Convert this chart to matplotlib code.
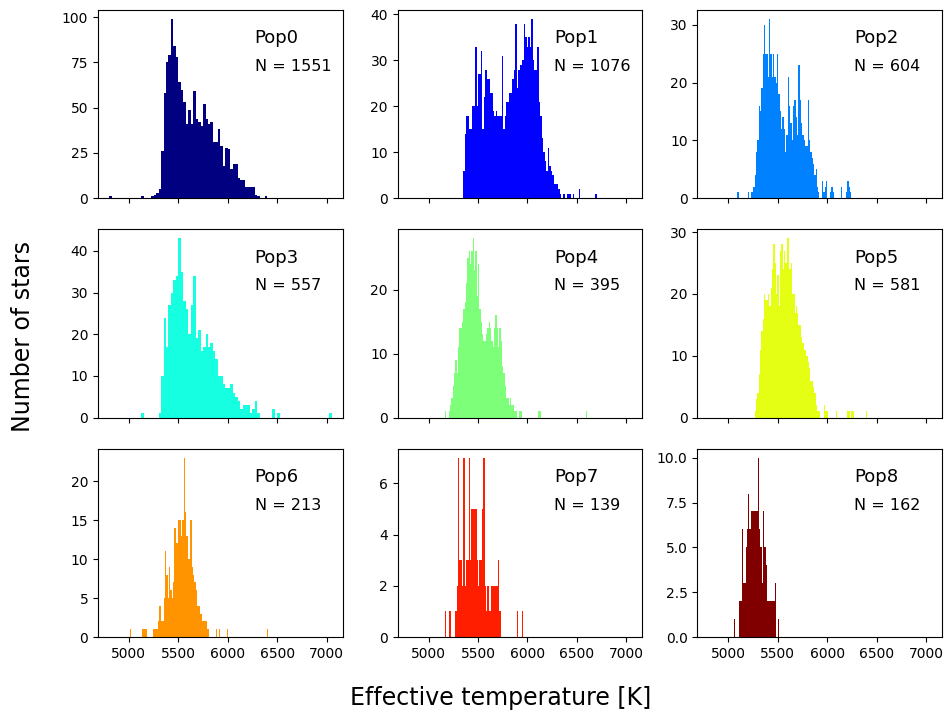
import numpy as np
import matplotlib
matplotlib.use('Agg')
import matplotlib.pyplot as plt
from matplotlib.ticker import MultipleLocator

# star counts per temperature bin
names = ['Pop0', 'Pop1', 'Pop2', 'Pop3', 'Pop4', 'Pop5', 'Pop6', 'Pop7', 'Pop8']
n_stars = [1551, 1076, 604, 557, 395, 581, 213, 139, 162]

# first bin edge [K] and bin width [K] of each population
bin_start = [4800, 5350, 5092, 5125, 5162, 5268, 5010, 5162, 5061]
bin_width = [25, 15, 13.4, 25, 13.5, 13.4, 13.6, 13.5, 10.1]

pop0 = [1, 0, 0, 0, 0, 0, 0, 0, 0, 0, 0, 0, 0, 1, 0, 0, 0, 1, 2, 3,
        5, 26, 58, 75, 79, 99, 84, 78, 64, 60, 53, 41, 49, 41, 59, 44, 42, 40, 52, 44,
        41, 42, 31, 31, 38, 29, 18, 28, 27, 16, 19, 19, 11, 10, 10, 6, 6, 6, 6, 2,
        1, 0, 0, 1]
pop1 = [6, 14, 18, 18, 15, 15, 20, 20, 33, 20, 27, 27, 32, 15, 22, 28, 26, 26, 23, 23,
        19, 18, 19, 18, 18, 18, 31, 15, 18, 21, 21, 23, 23, 26, 28, 38, 24, 28, 29, 29,
        30, 38, 35, 33, 35, 33, 39, 30, 28, 28, 33, 21, 18, 13, 10, 8, 6, 11, 7, 6,
        5, 3, 3, 3, 2, 1, 0, 1, 1, 0, 1, 1, 1, 0, 1, 0, 0, 0, 2,
        0, 0, 0, 0, 0, 0, 0, 0, 0, 0, 1]
pop2 = [1, 0, 0, 0, 0, 0, 0, 0, 1, 0, 1, 1, 2, 4, 8, 10, 16, 15, 19, 25,
        30, 25, 25, 21, 31, 25, 21, 25, 21, 20, 25, 18, 15, 12, 14, 12, 8, 11, 21, 16,
        13, 10, 16, 17, 14, 11, 23, 17, 13, 11, 10, 9, 9, 17, 10, 8, 7, 6, 4, 5,
        2, 1, 0, 0, 3, 1, 2, 3, 0, 0, 1, 2, 1, 0, 0, 0, 0, 0, 2, 0, 0, 0, 1, 3, 2, 1]
pop3 = [1, 0, 0, 0, 0, 0, 0, 1, 10, 24, 17, 27, 30, 33, 34, 43, 35, 28, 26, 20,
        27, 34, 19, 21, 16, 17, 20, 17, 18, 16, 14, 10, 10, 8, 7, 7, 8, 6, 5, 4,
        2, 3, 3, 3, 1, 2, 4, 1, 0, 0, 0, 0, 0, 2, 0, 1,
        0, 0, 0, 0, 0, 0, 0, 0, 0, 0, 0, 0, 0, 0, 0, 0, 0, 0, 0, 0, 1]
pop4 = [1, 0, 0, 1, 2, 3, 5, 7, 9, 7, 11, 14, 14, 15, 17, 18, 21, 25, 26, 24,
        26, 28, 23, 26, 19, 24, 17, 15, 13, 12, 12, 13, 14, 15, 14, 12, 11, 14, 16, 14,
        11, 14, 12, 8, 7, 5, 3, 3, 2, 3, 2, 2, 1, 1, 0, 0, 1, 1,
        0, 0, 0, 0, 0, 0, 0, 0, 0, 0, 0, 0, 1, 1,
        0, 0, 0, 0, 0, 0, 0, 0, 0, 0, 0, 0, 0, 0, 0, 0, 0,
        0, 0, 0, 0, 0, 0, 0, 0, 0, 0, 0, 0, 0, 0, 0, 0, 0, 1]
pop5 = [1, 3, 4, 7, 11, 14, 16, 20, 19, 19, 20, 18, 21, 24, 28, 25, 20, 23, 18, 27,
        28, 24, 27, 25, 29, 29, 24, 25, 20, 20, 17, 18, 17, 15, 15, 13, 12, 11, 11, 10,
        9, 8, 6, 6, 5, 4, 2, 1, 1, 0, 0, 0, 2, 1, 1,
        0, 0, 0, 0, 0, 0, 1, 0, 0, 0, 0, 0, 0, 0, 0, 1, 1, 0, 1, 1,
        0, 0, 0, 0, 0, 0, 0, 0, 0, 1]
pop6 = [1, 0, 0, 0, 0, 0, 0, 0, 0, 1, 1, 1, 1, 0, 0, 0, 0, 1, 1, 1,
        1, 2, 4, 2, 2, 5, 11, 8, 5, 9, 6, 5, 7, 14, 12, 12, 15, 15, 13, 15,
        23, 16, 13, 10, 10, 15, 9, 8, 7, 6, 4, 4, 3, 3, 2, 2, 2, 1, 1,
        0, 0, 0, 0, 0, 1, 0, 1, 0, 0, 0, 0, 0, 1,
        0, 0, 0, 0, 0, 0, 0, 0, 0, 0, 0, 0, 0, 0, 0,
        0, 0, 0, 0, 0, 0, 0, 0, 0, 0, 0, 0, 0, 0, 1]
pop7 = [1, 0, 0, 1, 1, 0, 0, 0, 1, 2, 7, 3, 3, 2, 7, 2, 3, 3, 7, 3,
        5, 5, 5, 5, 3, 2, 3, 3, 5, 7, 2, 1, 2, 1, 1, 2, 2, 2, 2, 2,
        3, 1, 0, 0, 0, 0, 0, 0, 0, 0, 0, 0, 0, 0, 1, 0, 0, 0, 1]
pop8 = [1, 0, 0, 0, 0, 2, 2, 2, 6, 3, 3, 3, 5, 6, 8, 6, 6, 7, 7, 7,
        7, 7, 7, 7, 10, 6, 5, 5, 3, 7, 5, 5, 4, 2, 2, 2, 2, 2, 2, 2,
        2, 3, 0, 0, 1]
counts = [pop0, pop1, pop2, pop3, pop4, pop5, pop6, pop7, pop8]

# y tick spacing per panel
ystep = [25, 10, 10, 10, 10, 10, 5, 2, 2.5]

colors = plt.cm.jet(np.linspace(0, 1, 9))

fig, axes = plt.subplots(3, 3, sharex=True, figsize=(9.48, 7.12), dpi=100)
fig.subplots_adjust(left=0.1034, right=0.9937, top=0.986, bottom=0.1053,
                    wspace=0.225, hspace=0.165)

for i, ax in enumerate(axes.flat):
    c = np.array(counts[i], dtype=float)
    edges = bin_start[i] + bin_width[i] * np.arange(len(c) + 1)
    ax.hist(edges[:-1], bins=edges, weights=c, color=colors[i])
    ax.yaxis.set_major_locator(MultipleLocator(ystep[i]))
    ax.xaxis.set_major_locator(MultipleLocator(500))
    ax.tick_params(labelsize=10)
    ax.text(0.64, 0.85, names[i], transform=ax.transAxes, fontsize=13, va='center')
    ax.text(0.64, 0.70, 'N = %d' % n_stars[i], transform=ax.transAxes,
            fontsize=11.5, va='center')

fig.text(0.528, 0.02, 'Effective temperature [K]', ha='center', va='center', fontsize=17)
fig.text(0.024, 0.527, 'Number of stars', ha='center', va='center',
         rotation=90, fontsize=17)

fig.savefig('out.png', dpi=100)
